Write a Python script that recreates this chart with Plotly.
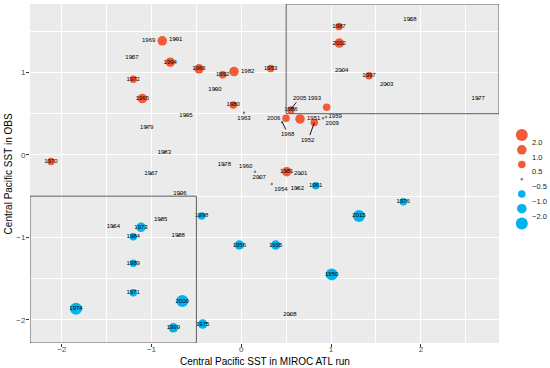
import plotly.graph_objects as go

# ---------------- data ----------------
years = ["1969", "1994", "1972", "1965", "1966", "1992", "1982", "1953", "1980", "1987",
         "2002", "1997", "1986", "1993", "2006", "1951", "1952", "1970", "1981",
         "1973", "1984", "1998", "1961", "2015", "1976", "1989", "1971", "1974", "2000",
         "1999", "1975", "1956", "1955", "1950",
         "1991", "1957", "1995", "1979", "1990", "1963", "2004", "2005", "1959", "2009",
         "1968", "1958", "2003", "1977", "1983", "1967", "1996", "1985", "1964", "1988",
         "1978", "1960", "2007", "2001", "1954", "1962", "2008"]
sst_miroc = [-0.880, -0.791, -1.203, -1.102, -0.471, -0.207, -0.081, 0.327, -0.089, 1.088,
             1.091, 1.422, 0.553, 0.951, 0.498, 0.654, 0.813, -2.119, 0.506,
             -1.117, -1.203, -0.441, 0.829, 1.311, 1.804, -1.203, -1.203, -1.841, -0.657,
             -0.757, -0.430, -0.022, 0.383, 1.007,
             -0.731, -1.217, -0.616, -1.053, -0.293, 0.030, 1.118, 0.553, 0.943, 0.910,
             0.455, 1.879, 1.619, 2.639, -0.857, -1.006, -0.683, -0.898, -1.425, -0.702,
             -0.189, 0.153, 0.200, 0.661, 0.339, 0.624, 0.542]
sst_obs = [1.383, 1.125, 0.919, 0.683, 1.044, 0.971, 1.011, 1.047, 0.607, 1.557,
           1.356, 0.959, 0.546, 0.579, 0.445, 0.437, 0.392, -0.081, -0.203,
           -0.877, -0.992, -0.740, -0.373, -0.740, -0.567, -1.314, -1.671, -1.865, -1.772,
           -2.096, -2.051, -1.092, -1.092, -1.448,
           1.404, 1.181, 0.477, 0.336, 0.797, 0.513, 1.023, 0.558, 0.461, 0.445,
           0.398, 1.638, 0.858, 0.680, 0.033, -0.231, -0.473, -0.785, -0.870, -0.979,
           -0.121, -0.203, -0.275, -0.231, -0.352, -0.404, -1.933]
index_value = [1.2, 1.5, 0.8, 1.5, 1.5, 0.8, 1.8, 0.8, 0.9, 0.7,
               1.5, 0.9, 0.9, 0.9, 0.9, 1.6, 0.9, 0.8, 1.5,
               -1.5, -0.9, -0.9, -0.7, -2.2, -0.7, -0.8, -0.8, -2.4, -2.1,
               -1.5, -1.2, -1.5, -1.5, -2.2,
               0.3, 0.2, 0.1, 0.2, 0.3, 0.1, 0.3, 0.2, 0.1, 0.1,
               0.2, 0.3, 0.2, 0.3, -0.1, -0.2, -0.3, -0.4, -0.3, -0.4,
               -0.1, 0.1, 0.1, 0.2, -0.1, -0.2, -0.3]

legend_labels = ["2.0", "1.0", "0.5", "\u22120.5", "\u22121.0", "\u22122.0"]
legend_values = [2.5, 1.5, 0.75, 0.0, -0.75, -1.5, -2.5]

x_ticks = [-2, -1, 0, 1, 2]
y_ticks = [-2, -1, 0, 1]
THRESH = 0.5
x_title = "Central Pacific SST in MIROC ATL run"
y_title = "Central Pacific SST in OBS"

# ---------------- styles ----------------
X_RANGE = [-2.353, 2.87]
Y_RANGE = [-2.28, 1.83]
RED = "#F25A38"
BLUE = "#00B2EE"
GREY = "#808080"
FONT = "Liberation Sans"

label_pos = {"1969": "middle left", "1982": "middle right", "1951": "middle right",
             "1993": "top left", "2006": "middle left", "1960": "top left",
             "1954": "bottom right", "1959": "middle right", "2009": "bottom right",
             "1963": "bottom center"}
arrow_labels = {"2005": (9, -11), "1968": (6, 12), "1952": (-6, 17)}


def size_of(v):
    a = abs(v)
    if a < 0.5:
        return 2.5
    if a < 1:
        return 7.5
    if a < 2:
        return 9.5
    return 12


def colour_of(v):
    if v >= 0.5:
        return RED
    if v <= -0.5:
        return BLUE
    return GREY


fig = go.Figure()

# panel background
fig.add_shape(type="rect", xref="x domain", yref="y domain", x0=0, x1=1, y0=0, y1=1,
              fillcolor="#EBEBEB", line=dict(width=0), layer="below")

texts = ["" if y in arrow_labels else y for y in years]
positions = [label_pos.get(y, "middle center") for y in years]

fig.add_trace(go.Scatter(
    x=sst_miroc, y=sst_obs, mode="markers+text",
    text=texts, textposition=positions,
    textfont=dict(family=FONT, size=6, color="black"),
    marker=dict(size=[size_of(v) for v in index_value],
                color=[colour_of(v) for v in index_value],
                opacity=1, line=dict(width=0)),
    showlegend=False, hoverinfo="skip", cliponaxis=False,
))

for yr, (ax, ay) in arrow_labels.items():
    i = years.index(yr)
    fig.add_annotation(x=sst_miroc[i], y=sst_obs[i], xref="x", yref="y",
                       text=yr, showarrow=True, arrowhead=0, arrowwidth=0.9,
                       arrowcolor="black", ax=ax, ay=ay, standoff=0,
                       font=dict(family=FONT, size=6, color="black"))

# threshold boxes
box_line = dict(color="#5A5A5A", width=1)
fig.add_shape(type="rect", xref="x", yref="y", x0=THRESH, x1=X_RANGE[1],
              y0=THRESH, y1=Y_RANGE[1], line=box_line, fillcolor="rgba(0,0,0,0)")
fig.add_shape(type="rect", xref="x", yref="y", x0=X_RANGE[0], x1=-THRESH,
              y0=Y_RANGE[0], y1=-THRESH, line=box_line, fillcolor="rgba(0,0,0,0)")

# binned size legend
n = len(legend_values)
fig.add_trace(go.Scatter(
    x=[0.4] * n, y=[-i for i in range(n)], mode="markers",
    marker=dict(size=[size_of(v) for v in legend_values],
                color=[colour_of(v) for v in legend_values],
                opacity=1, line=dict(width=0)),
    xaxis="x2", yaxis="y2", showlegend=False, hoverinfo="skip",
))
for i, lab in enumerate(legend_labels):
    fig.add_annotation(x=0.6, y=-(i + 0.5), xref="x2", yref="y2", text=lab,
                       showarrow=False, xanchor="left", yanchor="middle",
                       font=dict(family=FONT, size=7.5, color="#222222"))

# axis titles
fig.add_annotation(x=0.9107 / 2, y=-0.055, xref="paper", yref="paper", text=x_title,
                   showarrow=False, xanchor="center", yanchor="middle",
                   font=dict(family=FONT, size=10, color="black"))
fig.add_annotation(x=-0.041, y=0.5, xref="paper", yref="paper", text=y_title,
                   showarrow=False, xanchor="center", yanchor="middle", textangle=-90,
                   font=dict(family=FONT, size=10, color="black"))

axis_common = dict(
    showgrid=True, gridcolor="white", gridwidth=1.1, zeroline=False,
    ticks="outside", ticklen=3, tickwidth=1, tickcolor="#333333",
    tickfont=dict(family=FONT, size=8, color="#4D4D4D"),
    showline=False, automargin=False,
)

fig.update_layout(
    width=550, height=368,
    margin=dict(l=30, r=5, t=4, b=25, autoexpand=False),
    paper_bgcolor="white", plot_bgcolor="rgba(0,0,0,0)",
    font=dict(family=FONT),
    xaxis=dict(domain=[0, 0.9107], range=X_RANGE, tickvals=x_ticks,
               ticklabelstandoff=-5,
               minor=dict(tickvals=[-1.5, -0.5, 0.5, 1.5, 2.5], showgrid=True,
                          gridcolor="white", gridwidth=0.5, ticks=""),
               **axis_common),
    yaxis=dict(domain=[0, 1], range=Y_RANGE, tickvals=y_ticks,
               ticklabelstandoff=-1,
               minor=dict(tickvals=[-1.5, -0.5, 0.5, 1.5], showgrid=True,
                          gridcolor="white", gridwidth=0.5, ticks=""),
               **axis_common),
    xaxis2=dict(domain=[0.925, 1], range=[0, 1], visible=False, anchor="y2"),
    yaxis2=dict(domain=[0.331, 0.635], range=[-6.5, 0.5], visible=False, anchor="x2"),
)

fig.write_html("out.html", config={"displayModeBar": False},
               post_script="document.body.style.margin='0';document.body.style.overflow='hidden';")
